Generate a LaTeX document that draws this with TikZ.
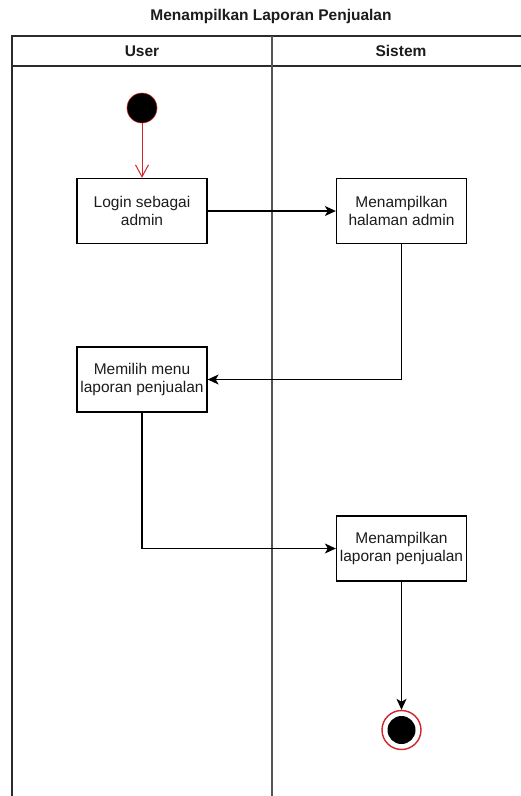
\documentclass[tikz,border=0pt]{standalone}
\usepackage{fontspec}
\setmainfont{Liberation Sans}
\usetikzlibrary{arrows.meta}
\definecolor{frameline}{HTML}{2B2B2B}
\definecolor{laneline}{HTML}{555555}
\definecolor{startred}{HTML}{D0262B}
\definecolor{txt}{HTML}{1C1C1C}
\begin{document}
\begin{tikzpicture}[x=1pt,y=-1pt,
  actbox/.style={draw=black,line width=1.3pt,fill=white,minimum width=130pt,minimum height=65pt,
    align=center,inner sep=1pt,text=txt,font=\fontsize{15.5}{17.5}\selectfont},
  flow/.style={draw=black,line width=1.2pt,-{Stealth[length=11pt,width=10pt,inset=3pt]}},
  initflow/.style={draw=startred,line width=1pt,-{Straight Barb[length=12pt,width=13pt,line width=1pt]}},
  hdr/.style={font=\bfseries\fontsize{15.5}{17.5}\selectfont,text=txt}]
\clip (0,0) rectangle (521,796);
\fill[white] (0,0) rectangle (521,796);

% swimlane frame
\node[hdr] (title) at (271,16) {Menampilkan Laporan Penjualan};
\draw[frameline,line width=1.4pt] (12,800) -- (12,36) -- (530,36);
\draw[frameline,line width=1.4pt] (12,66) -- (530,66);
\draw[laneline,line width=1.6pt] (272,36) -- (272,800);
\node[hdr] (laneuser) at (142,51) {User};
\node[hdr] (lanesys) at (401,51) {Sistem};

% activities
\node[circle,fill=black,draw=startred,line width=0.6pt,minimum size=30pt,inner sep=0pt] (start) at (142,108) {};
\node[actbox] (login) at (142,211) {Login sebagai\\admin};
\node[actbox] (halaman) at (401.5,211) {Menampilkan\\halaman admin};
\node[actbox] (memilih) at (142,379.5) {Memilih menu\\laporan penjualan};
\node[actbox] (laporan) at (401.5,548.5) {Menampilkan\\laporan penjualan};
\node[circle,draw=startred,line width=1.4pt,fill=white,minimum size=39pt,inner sep=0pt] (finish) at (401.5,730) {};
\node[circle,fill=black,minimum size=28pt,inner sep=0pt] (finishdot) at (finish) {};

% control flow
\draw[initflow] (start) -- (login);
\draw[flow] (login) -- (halaman);
\draw[flow] (halaman.south) |- (memilih.east);
\draw[flow] (memilih.south) |- (laporan.west);
\draw[flow] (laporan) -- (finish);
\end{tikzpicture}
\end{document}
